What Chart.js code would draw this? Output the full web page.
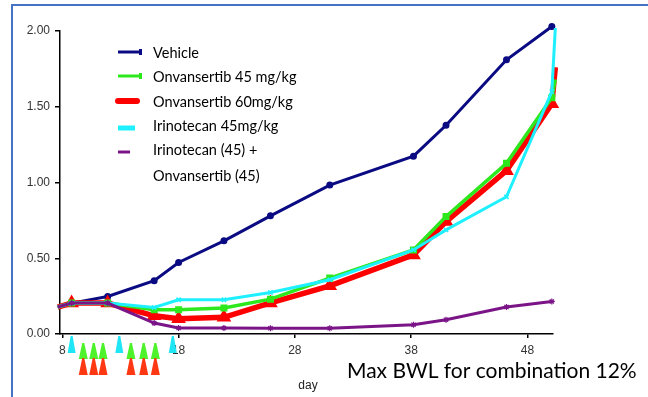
<!DOCTYPE html>
<html>
<head>
<meta charset="utf-8">
<script src="https://cdn.jsdelivr.net/npm/chart.js@4.4.1/dist/chart.umd.min.js"></script>
<style>
  body { margin: 0; background: #fff; }
  canvas { display: block; }
</style>
</head>
<body>
<canvas id="chart" width="648" height="397"></canvas>
<script>
// Values (day, relative tumour volume)
const days = [7.6, 8.8, 11.9, 15.9, 18, 21.9, 25.9, 31, 38.2, 41, 46.2, 50.1, 50.4];
const vehicle = [0.178, 0.204, 0.248, 0.352, 0.472, 0.615, 0.78, 0.983, 1.174, 1.378, 1.81, 2.03, null];
const onvan45 = [0.178, 0.204, 0.204, 0.16, 0.16, 0.172, 0.23, 0.369, 0.555, 0.775, 1.127, 1.56, 1.68];
const onvan60 = [0.178, 0.204, 0.204, 0.12, 0.10, 0.11, 0.205, 0.318, 0.522, 0.742, 1.078, 1.52, 1.76];
const irino45 = [0.178, 0.204, 0.204, 0.175, 0.226, 0.226, 0.274, 0.358, 0.555, 0.687, 0.906, 1.60, 2.02];
const combo = [0.178, 0.204, 0.204, 0.072, 0.04, 0.04, 0.038, 0.038, 0.061, 0.094, 0.178, 0.215, null];

const seriesLabels = ['Vehicle', 'Onvansertib 45 mg/kg', 'Onvansertib 60mg/kg', 'Irinotecan 45mg/kg', ['Irinotecan (45) +', 'Onvansertib (45)']];
const xTicks = [8, 18, 28, 38, 48];
const yTicks = [0, 0.5, 1, 1.5, 2];

// dosing days shown as arrows under the x axis
const irinoDoseDays = [8.8, 12.9, 17.5];
const onvanDoseDays = [9.8, 10.7, 11.5, 13.9, 15.0, 16.0];

function pts(values) {
    return days.map((d, i) => ({ x: d, y: values[i] }));
}

// no marker on the first point and on the last steep one
function radii(r) {
    return days.map((d, i) => (i === 0 || i === days.length - 1) ? 0 : r);
}

const tickFont = { family: 'Liberation Sans, Arial, sans-serif', size: 12 };

// Blue frame of the slide
const framePlugin = {
    id: 'frame',
    beforeDraw(chart) {
        const ctx = chart.ctx;
        ctx.save();
        ctx.strokeStyle = '#4472C4';
        ctx.lineWidth = 2;
        ctx.beginPath();
        ctx.moveTo(12, 397);
        ctx.lineTo(12, 5);
        ctx.lineTo(648, 5);
        ctx.stroke();
        ctx.restore();
    }
};

// Legend drawn inside the plot
const legendPlugin = {
    id: 'insideLegend',
    afterDatasetsDraw(chart) {
        const ctx = chart.ctx;
        const rows = [52, 76, 101, 125, 149];
        const samples = [
            { w: 24, lw: 3, end: true },
            { w: 24, lw: 3, end: true },
            { w: 19, lw: 6, end: false },
            { w: 17, lw: 5, end: false },
            { w: 12, lw: 3, end: false }
        ];
        ctx.save();
        chart.data.datasets.forEach((ds, i) => {
            const y = rows[i];
            const s = samples[i];
            ctx.strokeStyle = ds.borderColor;
            ctx.lineWidth = s.lw;
            ctx.lineCap = i === 2 ? 'round' : 'butt';
            ctx.beginPath();
            ctx.moveTo(118, y + (i >= 3 ? 3 : 0));
            ctx.lineTo(118 + s.w, y + (i >= 3 ? 3 : 0));
            ctx.stroke();
            if (s.end) {
                ctx.fillStyle = ds.borderColor;
                ctx.fillRect(118 + s.w - 3, y - 3, 3, 6);
            }
            ctx.fillStyle = '#000';
            ctx.font = '14.5px Lato, "Open Sans", sans-serif';
            ctx.textBaseline = 'middle';
            const lines = Array.isArray(ds.label) ? ds.label : [ds.label];
            lines.forEach((t, j) => ctx.fillText(t, 153, y + 1 + j * 26));
        });
        ctx.restore();
    }
};

// Dose arrows and footer texts
const extrasPlugin = {
    id: 'extras',
    afterDraw(chart) {
        const ctx = chart.ctx;
        const xs = chart.scales.x;
        function tri(x, top, bottom, half, color) {
            ctx.fillStyle = color;
            ctx.beginPath();
            ctx.moveTo(x - 1, top);
            ctx.lineTo(x + 1, top);
            ctx.lineTo(x + half, bottom);
            ctx.lineTo(x - half, bottom);
            ctx.closePath();
            ctx.fill();
        }
        ctx.save();
        irinoDoseDays.forEach(d => tri(xs.getPixelForValue(d), 336, 353, 4, '#1EE6F5'));
        onvanDoseDays.forEach(d => {
            const x = xs.getPixelForValue(d);
            tri(x, 343, 359, 4.5, '#4DF22B');
            tri(x, 358, 375, 4.5, '#FF3814');
        });

        ctx.fillStyle = '#222';
        ctx.font = '12px "Liberation Sans", Arial, sans-serif';
        ctx.textAlign = 'center';
        ctx.textBaseline = 'middle';
        ctx.fillText('day', 308, 386);

        ctx.fillStyle = '#000';
        ctx.font = '21px Lato, "Open Sans", sans-serif';
        ctx.textAlign = 'left';
        ctx.textBaseline = 'alphabetic';
        ctx.fillText('Max BWL for combination 12%', 347, 378);
        ctx.restore();
    }
};

new Chart(document.getElementById('chart'), {
    type: 'line',
    data: {
        datasets: [
            {
                label: seriesLabels[0],
                data: pts(vehicle),
                borderColor: '#0A0A82',
                backgroundColor: '#0A0A82',
                borderWidth: 3,
                pointStyle: 'circle',
                pointRadius: radii(2),
                order: 5
            },
            {
                label: seriesLabels[1],
                data: pts(onvan45),
                borderColor: '#2EE81E',
                backgroundColor: '#2EE81E',
                borderWidth: 3.5,
                pointStyle: 'rect',
                pointRadius: radii(2.5),
                order: 3
            },
            {
                label: seriesLabels[2],
                data: pts(onvan60),
                borderColor: '#FF0000',
                backgroundColor: '#FF0000',
                borderWidth: 5.5,
                pointStyle: 'triangle',
                pointRadius: radii(3),
                order: 4
            },
            {
                label: seriesLabels[3],
                data: pts(irino45),
                borderColor: '#1EF0FF',
                backgroundColor: '#1EF0FF',
                borderWidth: 3,
                pointStyle: 'crossRot',
                pointRadius: radii(3),
                pointBorderWidth: 1.5,
                order: 2
            },
            {
                label: seriesLabels[4],
                data: pts(combo),
                borderColor: '#7A1487',
                backgroundColor: '#7A1487',
                borderWidth: 3,
                pointStyle: 'star',
                pointRadius: radii(3),
                pointBorderWidth: 1.2,
                order: 1
            }
        ]
    },
    options: {
        responsive: false,
        animation: false,
        devicePixelRatio: 1,
        clip: false,
        layout: { padding: { left: 0, right: 95, top: 31, bottom: 0 } },
        elements: { line: { tension: 0 } },
        plugins: {
            legend: { display: false },
            tooltip: { enabled: false }
        },
        scales: {
            x: {
                type: 'linear',
                min: 7.8,
                max: 50.2,
                afterBuildTicks: s => { s.ticks = xTicks.map(v => ({ value: v })); },
                afterFit: s => { s.height = 63; },
                ticks: { font: tickFont, color: '#333', padding: 5, maxRotation: 0, autoSkip: false },
                grid: { drawOnChartArea: false, drawTicks: true, tickLength: 4, color: '#000', lineWidth: 1.5 },
                border: { color: '#000', width: 1.5 }
            },
            y: {
                min: 0,
                max: 2,
                afterBuildTicks: s => { s.ticks = yTicks.map(v => ({ value: v })); },
                afterFit: s => { s.width = 60; },
                ticks: { font: tickFont, color: '#333', padding: 5, callback: v => v.toFixed(2) },
                grid: { drawOnChartArea: false, drawTicks: true, tickLength: 5, color: '#000', lineWidth: 1.5 },
                border: { color: '#000', width: 1.5 }
            }
        }
    },
    plugins: [framePlugin, legendPlugin, extrasPlugin]
});
</script>
</body>
</html>
